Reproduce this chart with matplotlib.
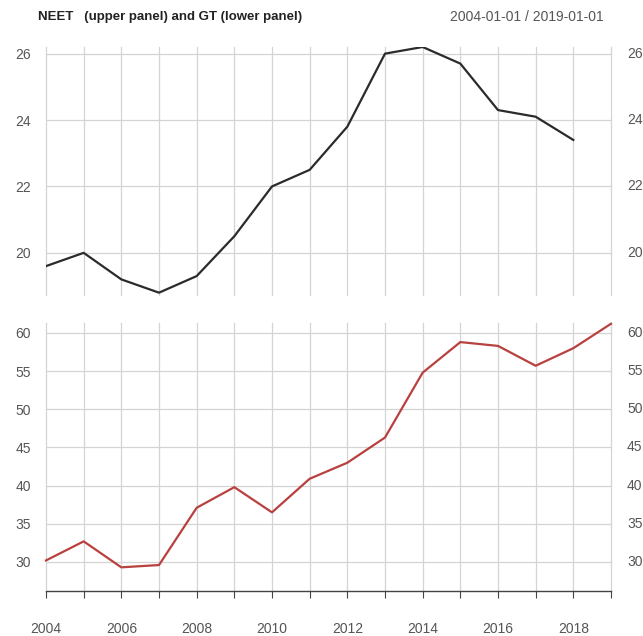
"""
NEET (upper panel) and GT (lower panel), yearly values 2004-2019
"""

### Import modules
import numpy as np
import matplotlib
matplotlib.use('Agg')
import matplotlib.pyplot as plt

plt.rcParams['font.family'] = ['Liberation Sans', 'DejaVu Sans']

### Data
years_neet = [2004, 2005, 2006, 2007, 2008, 2009, 2010, 2011, 2012,
              2013, 2014, 2015, 2016, 2017, 2018]
neet = [19.6, 20.0, 19.2, 18.8, 19.3, 20.5, 22.0, 22.5, 23.8,
        26.0, 26.2, 25.7, 24.3, 24.1, 23.4]

years_gt = [2004, 2005, 2006, 2007, 2008, 2009, 2010, 2011, 2012,
            2013, 2014, 2015, 2016, 2017, 2018, 2019]
gt = [30.2, 32.7, 29.3, 29.6, 37.1, 39.8, 36.5, 40.9, 43.0,
      46.3, 54.8, 58.8, 58.3, 55.7, 58.0, 61.2]

neet_ticks = [20, 22, 24, 26]
gt_ticks = [30, 35, 40, 45, 50, 55, 60]
year_ticks = np.arange(2004, 2020, 1)
year_labels = [2004, 2006, 2008, 2010, 2012, 2014, 2016, 2018]

### Figure
W, H = 643, 636
fig = plt.figure(figsize=(W/100, H/100), dpi=100)

def px_axes(x0, y0, x1, y1):
    return fig.add_axes([x0/W, 1 - y1/H, (x1 - x0)/W, (y1 - y0)/H])

gridc = '#d4d4d4'
labc = '#555555'
fs = 10

def style_panel(ax, yticks):
    for s in ax.spines.values():
        s.set_visible(False)
    ax.set_xlim(2004, 2019)
    ax.set_xticks(year_ticks)
    ax.set_yticks(yticks)
    ax.grid(True, color=gridc, linewidth=0.9)
    ax.set_axisbelow(True)
    for ln in ax.get_xgridlines():
        ln.set_clip_on(False)
    ax.tick_params(axis='y', length=0, labelsize=fs, labelcolor=labc, pad=11)
    ax.tick_params(axis='x', length=0, labelbottom=False)
    for yv in yticks:
        ax.text(1.0 + 16/565, yv, str(yv), transform=ax.get_yaxis_transform(),
                fontsize=fs, color=labc, ha='left', va='center')

### Upper panel (NEET)
ax1 = px_axes(46, 47, 611, 295)
style_panel(ax1, neet_ticks)
ax1.set_ylim(18.73, 26.2)
ax1.plot(years_neet, neet, color='#2b2b2b', linewidth=1.6, zorder=3)

### Lower panel (GT)
ax2 = px_axes(46, 323, 611, 591)
style_panel(ax2, gt_ticks)
ax2.set_ylim(26.2, 61.3)
ax2.plot(years_gt, gt, color='#b8413f', linewidth=1.6, zorder=3,
         clip_on=False)

ax2.spines['bottom'].set_visible(True)
ax2.spines['bottom'].set_color('#444444')
ax2.spines['bottom'].set_linewidth(1.0)
ax2.tick_params(axis='x', length=5, width=0.8, color='#444444',
                labelbottom=True, labelsize=fs, labelcolor=labc, pad=17)
ax2.set_xticklabels([str(y) if y in year_labels else '' for y in year_ticks])

### Titles
fig.text(38/W, 1 - 17/H, 'NEET   (upper panel) and GT (lower panel)',
         fontsize=9.5, fontweight='bold', color='#222222', ha='left', va='center')
fig.text(604/W, 1 - 17/H, '2004-01-01 / 2019-01-01',
         fontsize=10, color=labc, ha='right', va='center')

plt.savefig('out.png', dpi=100)
